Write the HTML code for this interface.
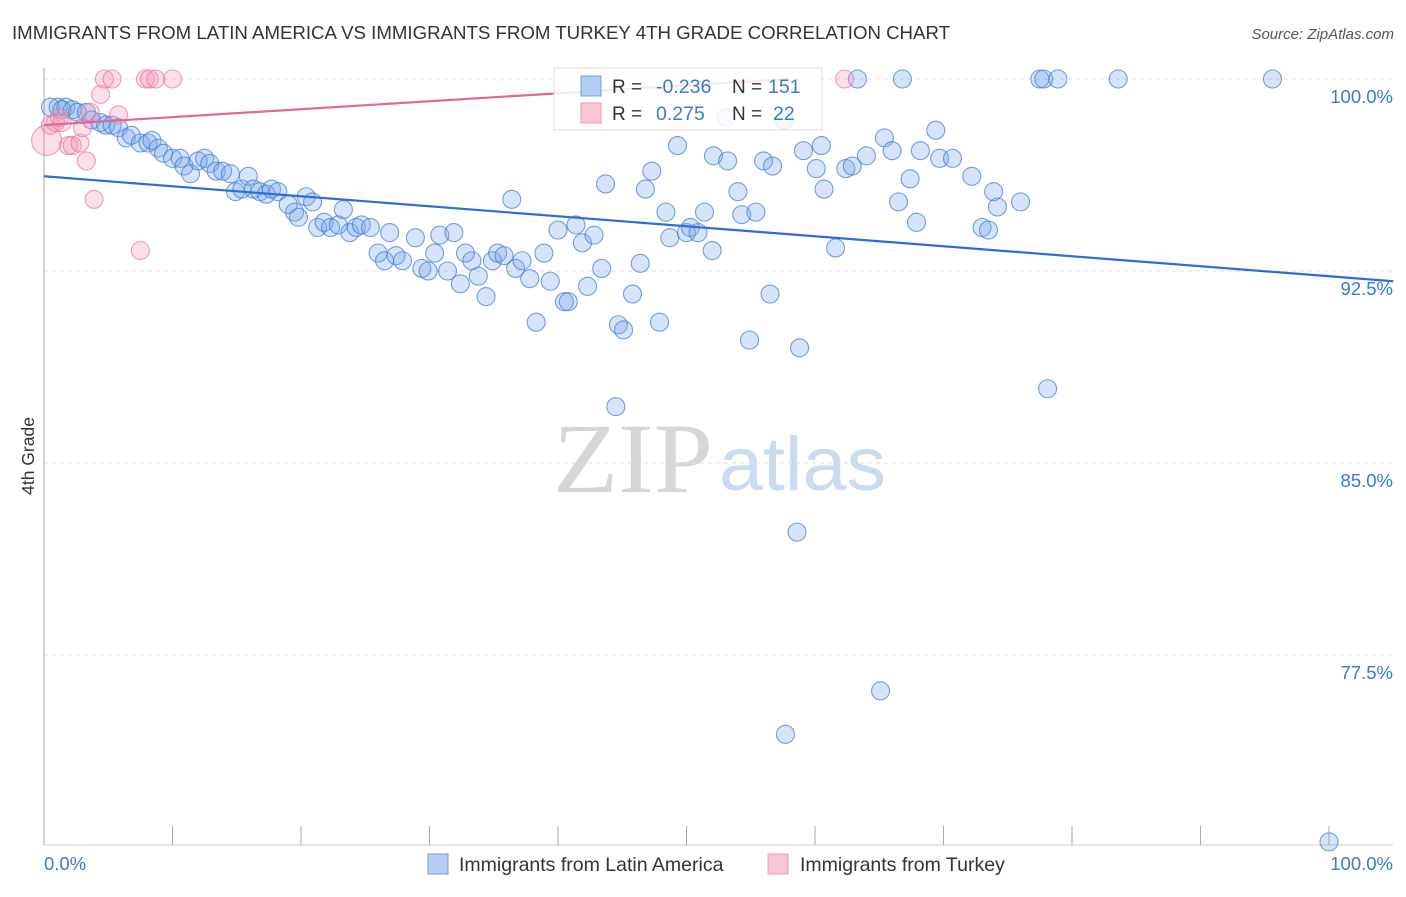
<!DOCTYPE html>
<html><head><meta charset="utf-8">
<style>
body{margin:0;background:#fff;font-family:"Liberation Sans",sans-serif;}
</style></head>
<body>
<svg id="chart" width="1406" height="892" xmlns="http://www.w3.org/2000/svg" font-family="Liberation Sans, sans-serif">
<text x="12" y="39" font-size="18" fill="#333" textLength="938" lengthAdjust="spacingAndGlyphs">IMMIGRANTS FROM LATIN AMERICA VS IMMIGRANTS FROM TURKEY 4TH GRADE CORRELATION CHART</text>
<text x="1394" y="39" font-size="15" fill="#555" text-anchor="end" font-style="italic">Source: ZipAtlas.com</text>
<g>
<text x="553" y="492" font-size="100" fill="#d6d6d6" style="font-family:'Liberation Serif',serif" textLength="160" lengthAdjust="spacingAndGlyphs">ZIP</text>
<text x="719" y="490" font-size="76" fill="#c9daf1" textLength="167" lengthAdjust="spacingAndGlyphs">atlas</text>
</g>
<g id="grid"></g>
<g id="axes"></g>
<g id="pts"></g>
<g id="trends"></g>
<g>
<rect x="554" y="68" width="268" height="62" fill="#fff" fill-opacity="0.85" stroke="#ddd"/>
<rect x="581" y="76" width="20" height="20" fill="#b5cdf3" stroke="#6f9fe0"/>
<rect x="581" y="103" width="20" height="20" fill="#f9c6d4" stroke="#ef9ab5"/>
<text x="612" y="93" font-size="19" fill="#333">R = </text><text x="656" y="93" font-size="19.5" fill="#3b78d8">-0.236</text>
<text x="732" y="93" font-size="19" fill="#333">N = </text><text x="768" y="93" font-size="19.5" fill="#3b78d8">151</text>
<text x="612" y="120" font-size="19" fill="#333">R = </text><text x="656" y="120" font-size="19.5" fill="#3b78d8">0.275</text>
<text x="732" y="120" font-size="19" fill="#333">N = </text><text x="773" y="120" font-size="19.5" fill="#3b78d8">22</text>
</g>
<g>
<rect x="428" y="854" width="20" height="20" fill="#b5cdf3" stroke="#6f9fe0"/>
<text x="459" y="871" font-size="19.5" fill="#333">Immigrants from Latin America</text>
<rect x="768" y="854" width="20" height="20" fill="#f9c6d4" stroke="#ef9ab5"/>
<text x="800" y="871" font-size="19.5" fill="#333">Immigrants from Turkey</text>
</g>
<text transform="translate(34,456) rotate(-90)" font-size="17.5" fill="#333" text-anchor="middle">4th Grade</text>
</svg>
<script>
const yTicks=[100,92.5,85,77.5];
const yTickLabels=["100.0%","92.5%","85.0%","77.5%"];
const xLabels=["0.0%","100.0%"];
const blueX=[0.5,1.1,1.7,2.2,1.4,2.6,3.3,3.7,4.4,4.8,5.3,5.8,6.4,6.8,7.5,8.1,8.4,8.9,9.3,10.0,10.6,10.9,11.4,12.0,12.5,12.9,13.4,13.9,14.5,14.9,15.4,15.9,16.3,16.8,17.3,17.7,18.2,19.0,19.5,19.8,20.4,20.9,21.3,21.8,22.3,22.9,23.3,23.8,24.3,24.7,25.4,26.0,26.5,26.9,27.4,27.9,28.9,29.4,29.9,30.4,30.8,31.4,31.9,32.4,32.8,33.3,33.8,34.4,34.9,35.3,35.8,36.4,36.7,37.2,37.8,38.3,38.9,39.4,40.0,40.5,40.8,41.4,41.9,42.3,42.8,43.4,43.7,44.7,45.1,45.8,46.4,46.8,47.3,47.9,48.4,48.7,49.3,50.0,50.3,50.9,51.4,52.0,52.1,53.1,53.2,54.0,54.3,54.9,55.4,56.0,56.5,56.7,57.6,58.8,59.1,60.1,60.5,60.7,61.6,62.4,62.9,63.3,64.0,65.4,66.0,66.5,66.8,67.4,67.9,68.2,69.4,69.7,70.7,72.2,73.0,73.5,73.9,74.2,76.0,77.5,77.8,78.1,78.9,83.6,95.6,100.0,44.5,58.6,65.1,57.7];
const blueY=[98.9,98.9,98.9,98.8,98.8,98.7,98.7,98.4,98.3,98.2,98.2,98.1,97.7,97.8,97.5,97.5,97.6,97.3,97.1,96.9,96.9,96.6,96.3,96.8,96.9,96.7,96.4,96.4,96.3,95.6,95.7,96.2,95.7,95.6,95.5,95.7,95.6,95.1,94.8,94.6,95.4,95.2,94.2,94.4,94.2,94.3,94.9,94.0,94.2,94.3,94.2,93.2,92.9,94.0,93.1,92.9,93.8,92.6,92.5,93.2,93.9,92.5,94.0,92.0,93.2,92.9,92.3,91.5,92.9,93.2,93.1,95.3,92.6,92.9,92.2,90.5,93.2,92.1,94.1,91.3,91.3,94.3,93.6,91.9,93.9,92.6,95.9,90.4,90.2,91.6,92.8,95.7,96.4,90.5,94.8,93.8,97.4,94.0,94.2,94.0,94.8,93.3,97.0,98.5,96.8,95.6,94.7,89.8,94.8,96.8,91.6,96.6,98.4,89.5,97.2,96.5,97.4,95.7,93.4,96.5,96.6,100,97.0,97.7,97.2,95.2,100,96.1,94.4,97.2,98.0,96.9,96.9,96.2,94.2,94.1,95.6,95.0,95.2,100,100,87.9,100,100,100,70.2,87.2,82.3,76.1,74.4];
const pinkX=[0.2,0.5,0.9,1.4,1.2,1.9,2.2,2.8,3.0,3.3,3.6,3.9,4.4,4.7,5.3,5.8,7.5,7.9,8.2,8.7,10.0,62.3];
const pinkY=[97.6,98.2,98.3,98.3,98.5,97.4,97.4,97.5,98.1,96.8,98.7,95.3,99.4,100,100,98.6,93.3,100,100,100,100,100];
const blueTrendX=[0,105]; const blueTrendY=[96.2,92.1];
const pinkTrendX=[0,58]; const pinkTrendY=[98.2,100];

const X0=44,X1=1329,Y100=79,PX=25.6;
const sx=v=>X0+(X1-X0)*v/100;
const sy=v=>Y100+(100-v)*PX;
const NS="http://www.w3.org/2000/svg";
function mk(tag,attrs,parent){const e=document.createElementNS(NS,tag);for(const k in attrs)e.setAttribute(k,attrs[k]);document.getElementById(parent).appendChild(e);return e;}

yTicks.forEach((t,i)=>{
  const g=mk('line',{x1:44,x2:1393,y1:sy(t),y2:sy(t),stroke:'#ddd','stroke-dasharray':'4,4'},'grid');
  
  
  const l=mk('text',{x:1393,y:sy(t)+24,'font-size':18.5,fill:'#3b78d8','text-anchor':'end'},'axes');
  l.textContent=yTickLabels[i];
  
  
});
const ax=mk('line',{x1:44,x2:44,y1:68,y2:845,stroke:'#aaa'},'axes');


const bx=mk('line',{x1:44,x2:1393,y1:845,y2:845,stroke:'#ccc'},'axes');


for(let i=1;i<=10;i++){
  const t=mk('line',{x1:sx(i*10),x2:sx(i*10),y1:826,y2:845,stroke:'#aaa'},'axes');
  
  
}
const xl0=mk('text',{x:44,y:870,'font-size':18.5,fill:'#3b78d8'},'axes');xl0.textContent=xLabels[0];


const xl1=mk('text',{x:1393,y:870,'font-size':18.5,fill:'#3b78d8','text-anchor':'end'},'axes');xl1.textContent=xLabels[1];



blueX.forEach((x,i)=>{
  const c=mk('circle',{cx:sx(x),cy:sy(blueY[i]),r:9,fill:'rgba(120,165,235,0.3)',stroke:'rgba(60,120,215,0.7)','stroke-width':1.1},'pts');
  
  
});
pinkX.forEach((x,i)=>{
  const c=mk('circle',{cx:sx(x),cy:sy(pinkY[i]),r:i===0?15:9,fill:'rgba(245,150,180,0.3)',stroke:'rgba(230,120,160,0.7)','stroke-width':1.1},'pts');
  
  
});
const bt=mk('line',{x1:sx(blueTrendX[0]),y1:sy(blueTrendY[0]),x2:sx(blueTrendX[1]),y2:sy(blueTrendY[1]),stroke:'#2a6fd6','stroke-width':2.2},'trends');


const pt=mk('line',{x1:sx(pinkTrendX[0]),y1:sy(pinkTrendY[0]),x2:sx(pinkTrendX[1]),y2:sy(pinkTrendY[1]),stroke:'#e56690','stroke-width':2.2},'trends');


</script>
</body></html>
